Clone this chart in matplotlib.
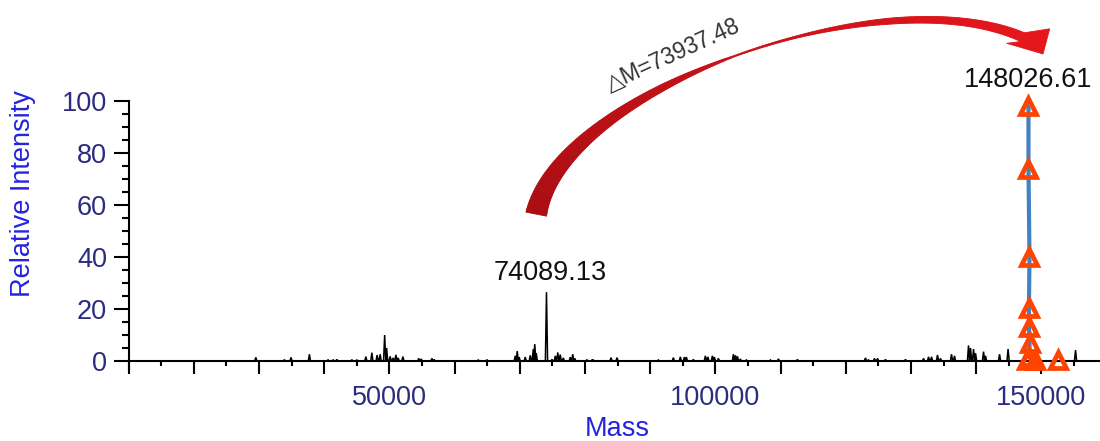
import numpy as np
import matplotlib
matplotlib.use("Agg")
import matplotlib.pyplot as plt
from matplotlib.collections import PolyCollection
from matplotlib.patches import Polygon
from matplotlib.transforms import IdentityTransform
from matplotlib.colors import to_rgb
from matplotlib.ticker import FixedLocator, FuncFormatter

plt.rcParams['font.family'] = ['Liberation Sans', 'DejaVu Sans']

# ---- deconvoluted mass spectrum: peak list (mass, relative intensity) ----
peak_mass = [29500, 33885, 34900, 37720, 40590, 41360, 41930, 44230, 45000,
             46380, 47300, 48110, 48575, 49265, 49570, 50110, 50570, 50985,
             51340, 52060, 54485, 54870, 56510, 56860, 63620, 64950, 69300,
             69600, 69900, 70830, 71600, 72060, 72290, 72520, 74089.13, 74930,
             75440, 75820, 76200, 76670, 77740, 78120, 78430, 80300, 81070,
             81270, 83990, 84910, 91250, 93550, 94625, 95240, 95550, 96620,
             98460, 98850, 99540, 99850, 100460, 102760, 103070, 103380,
             103835, 104750, 108440, 109670, 112580, 123020, 123480, 124400,
             124870, 126090, 129160, 131930, 132700, 133160, 134070, 134530,
             136220, 136680, 138830, 139140, 139600, 139910, 141135, 141440,
             143590, 144900, 155250]
peak_intensity = [1.4, 0.5, 1.4, 2.6, 0.5, 0.5, 0.6, 0.5, 0.4,
                  1.7, 3.2, 2.3, 2.6, 10.0, 5.0, 1.8, 1.2, 2.4,
                  1.2, 1.7, 1.0, 0.8, 1.0, 0.6, 0.4, 0.5, 2.0,
                  3.8, 1.5, 1.5, 2.2, 4.5, 6.5, 3.0, 26.5, 0.6,
                  2.0, 3.3, 2.5, 1.2, 1.5, 2.6, 1.0, 0.5, 0.4,
                  0.4, 1.3, 1.3, 0.4, 1.3, 1.6, 1.5, 1.5, 0.6,
                  2.0, 1.6, 2.0, 1.5, 1.0, 2.6, 2.2, 1.8,
                  0.8, 0.4, 0.4, 0.8, 0.6, 1.2, 0.5, 1.0,
                  1.0, 0.6, 0.6, 1.0, 1.6, 1.6, 2.3, 1.0,
                  2.6, 2.0, 6.0, 5.0, 4.6, 3.0, 3.6, 2.0,
                  2.6, 4.6, 4.2]

# ---- fitted intact-mass peak (triangles joined by the fit line) ----
fit_mass = [148026.61, 148030, 148180, 148100, 148100, 148200, 148150, 147730, 148960]
fit_intensity = [98, 74, 40, 20.5, 13, 7, 1.7, 0.4, 0.4]
extra_mass = [152500]
extra_intensity = [0.4]

light_chain_mass = 74089.13
intact_mass = 148026.61
mass_shift = intact_mass - light_chain_mass

x_major = list(range(10000, 160000, 10000))
x_minor = list(range(15000, 160000, 10000))
x_labelled = [50000, 100000, 150000]
y_major = [0, 20, 40, 60, 80, 100]
y_minor = [v for v in range(0, 101, 5) if v % 20]

TICK_COLOR = '#2b2b80'
LABEL_COLOR = '#2424e0'
FS = 19.5

fig = plt.figure(figsize=(11, 4.41), dpi=100)
ax = fig.add_axes([0.117, 0.1578, 0.883, 0.613])
ax.set_xlim(10000, 159000)
ax.set_ylim(-4, 100)

# spectrum trace: each centroid drawn as a narrow spike on the baseline
half_w = 170
xs, ys = [ax.get_xlim()[0]], [0]
for m, h in sorted(zip(peak_mass, peak_intensity)):
    xs += [m - half_w, m, m + half_w]
    ys += [0, h, 0]
xs.append(ax.get_xlim()[1]); ys.append(0)
ax.plot(xs, ys, color='black', lw=1.1, zorder=2, solid_joinstyle='miter')

# fitted peak
order = np.argsort(fit_intensity)[::-1]
ax.plot(np.array(fit_mass)[order][:-1], np.array(fit_intensity)[order][:-1],
        color='#4282c2', lw=3.0, zorder=3)
ax.plot(fit_mass + extra_mass, fit_intensity + extra_intensity, ls='none',
        marker='^', ms=11, mfc='none', mec='#ff4300', mew=3.4, zorder=4,
        clip_on=False)

# spines and ticks
for s in ('top', 'right'):
    ax.spines[s].set_visible(False)
ax.spines['bottom'].set_position(('data', 0))
for s in ('left', 'bottom'):
    ax.spines[s].set_linewidth(1.5)

ax.xaxis.set_major_locator(FixedLocator(x_major))
ax.xaxis.set_minor_locator(FixedLocator(x_minor))
ax.xaxis.set_major_formatter(FuncFormatter(
    lambda v, p: f'{int(v)}' if int(v) in x_labelled else ''))
ax.set_yticks(y_major)
ax.yaxis.set_minor_locator(FixedLocator(y_minor))
ax.tick_params(axis='x', which='major', length=9, width=1.5, pad=8,
               labelsize=FS, labelcolor=TICK_COLOR, direction='out')
ax.tick_params(axis='x', which='minor', length=3.6, width=1.5, direction='out')
ax.tick_params(axis='y', which='major', length=11, width=1.5, pad=4.5,
               labelsize=FS, labelcolor=TICK_COLOR, direction='out')
ax.tick_params(axis='y', which='minor', length=5, width=1.5, direction='out')

fig.text(23 / 1100, 1 - 194 / 441, 'Relative Intensity', rotation=90,
         ha='center', va='center', fontsize=FS, color=LABEL_COLOR)
fig.text(617 / 1100, 1 - 436 / 441, 'Mass', ha='center', va='baseline',
         fontsize=FS, color=LABEL_COLOR)

# peak labels
ax.annotate(f'{light_chain_mass:.2f}', xy=(light_chain_mass, 26.5),
            xytext=(2.7, 8.6), textcoords='offset points', ha='center',
            va='baseline', fontsize=FS, color='#111111', annotation_clip=False)
ax.annotate(f'{intact_mass:.2f}', xy=(intact_mass, max(fit_intensity)),
            xytext=(0, 14), textcoords='offset points', ha='center',
            va='baseline', fontsize=FS, color='#111111', annotation_clip=False)

# curved mass-shift arrow (tapered ribbon + head), built in display space
fig.canvas.draw()
ctrl = ax.transData.transform([(72520, 56.5), (76220, 104.2),
                               (125340, 148.5), (147120, 124.6)])
p0, p1, p2, p3 = ctrl
t = np.linspace(0, 1, 240)[:, None]
curve = ((1 - t) ** 3) * p0 + 3 * ((1 - t) ** 2) * t * p1 + 3 * (1 - t) * t ** 2 * p2 + t ** 3 * p3
deriv = 3 * ((1 - t) ** 2) * (p1 - p0) + 6 * (1 - t) * t * (p2 - p1) + 3 * t ** 2 * (p3 - p2)
tang = deriv / np.linalg.norm(deriv, axis=1)[:, None]
norm = np.column_stack([-tang[:, 1], tang[:, 0]])
width = np.interp(t[:, 0], [0, 0.12, 0.25, 0.38, 0.5, 0.6, 0.75, 0.88, 1.0],
                  [21, 16, 11, 6.5, 1.2, 2.2, 6, 7.5, 9.5])
left = curve + norm * (width[:, None] / 2)
right = curve - norm * (width[:, None] / 2)
c0, c1 = np.array(to_rgb('#a90d12')), np.array(to_rgb('#e5161c'))
quads, cols = [], []
for i in range(len(curve) - 1):
    quads.append([left[i], left[i + 1], right[i + 1], right[i]])
    f = i / (len(curve) - 2)
    cols.append(c0 * (1 - f) + c1 * f)
ribbon = PolyCollection(quads, facecolors=cols, edgecolors=cols, linewidths=0.6,
                        transform=IdentityTransform(), zorder=5)
fig.add_artist(ribbon)

E, T, N = curve[-1], tang[-1], norm[-1]
head_pts = [E + 4.75 * N,
            E + 21.5 * T + 18.5 * N,
            E + 25.5 * T - 7.2 * N,
            E - 12 * T - 12 * N,
            E - 4.75 * N]
fig.add_artist(Polygon(head_pts, closed=True, facecolor=c1, edgecolor=c1,
                       lw=0.6, transform=IdentityTransform(), zorder=5))

ax.text(93550, 117.7, f'\u25b3M={mass_shift:.2f}', rotation=24.6,
        rotation_mode='anchor', ha='center', va='center', fontsize=16.5,
        color='#333333', clip_on=False)

fig.savefig('out.png', dpi=100)
